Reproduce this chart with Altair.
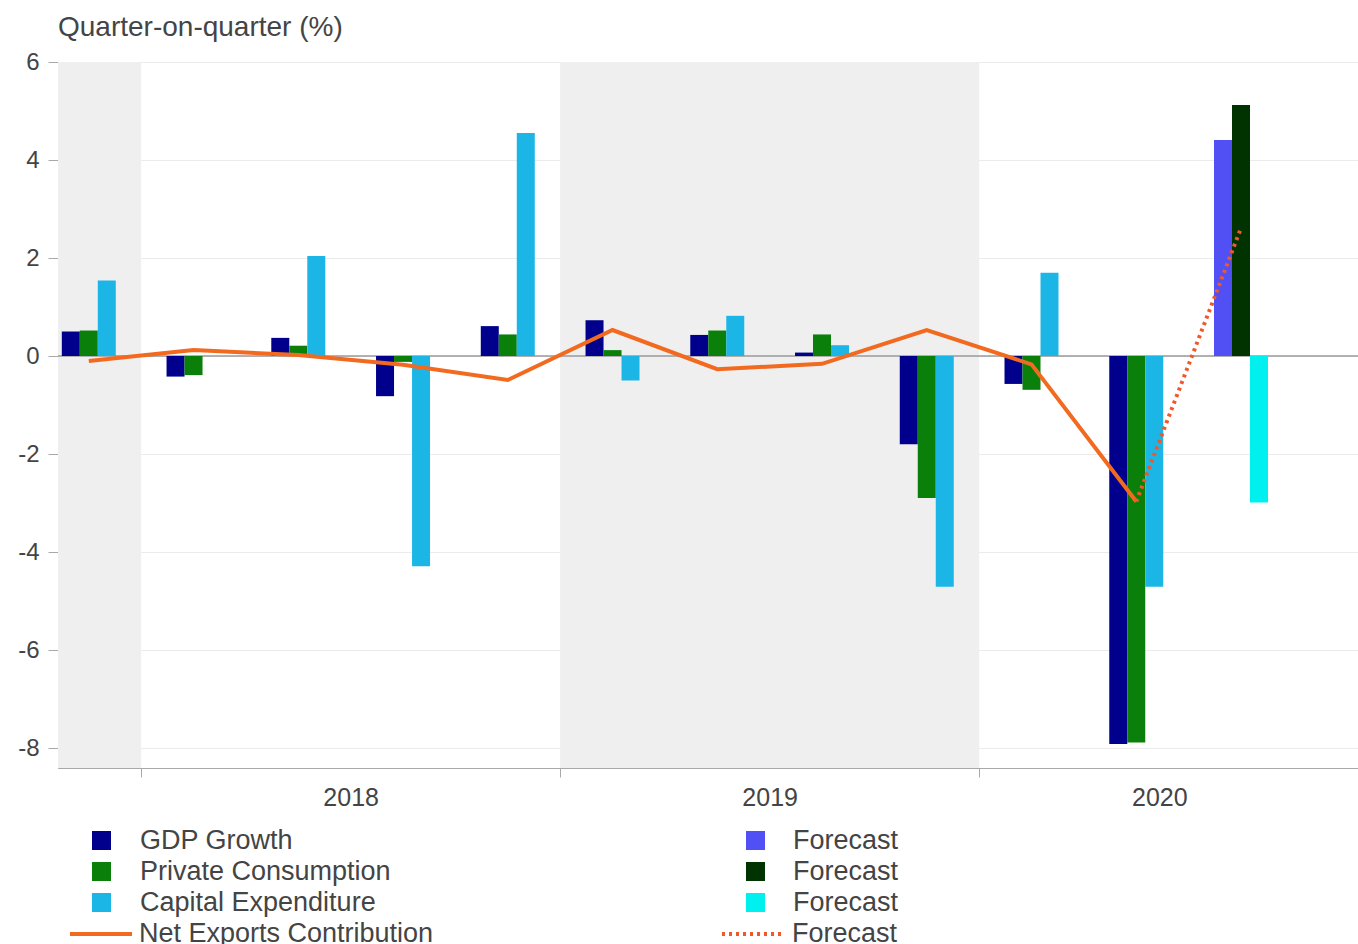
import altair as alt
import pandas as pd

# ---------------- data ----------------
quarters = ["2017 Q4", "2018 Q1", "2018 Q2", "2018 Q3", "2018 Q4", "2019 Q1",
            "2019 Q2", "2019 Q3", "2019 Q4", "2020 Q1", "2020 Q2", "2020 Q3"]

series_names = ["GDP Growth", "Private Consumption", "Capital Expenditure"]
gdp_growth = [0.50, -0.42, 0.37, -0.82, 0.61, 0.73, 0.43, 0.07, -1.80, -0.57, -7.92]
private_consumption = [0.52, -0.39, 0.21, -0.12, 0.44, 0.12, 0.52, 0.44, -2.90, -0.69, -7.89]
capital_expenditure = [1.54, 0.00, 2.04, -4.29, 4.55, -0.50, 0.82, 0.22, -4.71, 1.70, -4.71]

line_name = "Net Exports Contribution"
net_exports = [-0.10, 0.12, 0.02, -0.18, -0.49, 0.53, -0.27, -0.16, 0.53, -0.17, -2.97]

forecast_names = ["Forecast GDP", "Forecast PC", "Forecast Capex"]
forecast_quarter = "2020 Q3"
forecast_values = [4.41, 5.12, -2.99]

forecast_line_name = "Forecast"
forecast_line_quarters = ["2020 Q2", "2020 Q3"]
forecast_line = [-2.97, 2.61]

shaded_years = [2017, 2019]
year_labels = ["2018", "2019", "2020"]
year_label_pos = [2.5, 6.5, 10.22]
year_bounds = [0.5, 4.5, 8.5]

# ---------------- style ----------------
FONT = "Liberation Sans"
TXT = "#444444"
AX = "#A8A8A8"
bar_colors = ["#00008C", "#0A800A", "#1CB6E6"]
fc_colors = ["#5050F5", "#003300", "#00F0F0"]
line_color = "#F26A1F"
fc_line_color = "#F0582A"

X_MIN, X_MAX = -0.294, 12.117
Y_MIN, Y_MAX = -8.408, 6
BAR_W = 18 / 104.75


def qidx(label):
    return quarters.index(label)


rows = []
for slot, (name, vals) in enumerate(zip(series_names,
                                        [gdp_growth, private_consumption, capital_expenditure])):
    for i, v in enumerate(vals):
        rows.append({"quarter": quarters[i], "q": i, "slot": slot, "series": name, "value": v})
bars_df = pd.DataFrame(rows)

fc_df = pd.DataFrame({
    "quarter": [forecast_quarter] * 3,
    "q": [qidx(forecast_quarter)] * 3,
    "slot": [0, 1, 2],
    "series": forecast_names,
    "value": forecast_values,
})

line_df = pd.DataFrame({"q": list(range(len(net_exports))), "value": net_exports,
                        "series": [line_name] * len(net_exports)})
fc_line_df = pd.DataFrame({"q": [qidx(q) for q in forecast_line_quarters], "value": forecast_line,
                           "series": [forecast_line_name] * 2})

shade_df = pd.DataFrame({
    "start": [(y - 2017) * 4 - 3.5 for y in shaded_years],
    "end": [(y - 2017) * 4 + 0.5 for y in shaded_years],
})

x_scale = alt.Scale(domain=[X_MIN, X_MAX], nice=False, zero=False)
y_scale = alt.Scale(domain=[Y_MIN, Y_MAX], nice=False, zero=False)

label_expr = " : ".join(
    [f"datum.value == {p} ? '{t}'" for p, t in zip(year_label_pos, year_labels)]) + " : ''"
bounds_test = " || ".join([f"datum.value == {b}" for b in year_bounds])

x_axis = alt.Axis(
    values=sorted(year_bounds + year_label_pos), labelExpr=label_expr,
    tickOpacity={"condition": {"test": bounds_test, "value": 1}, "value": 0},
    grid=False, domainColor=AX, tickColor=AX, tickSize=9, labelPadding=8,
    labelFontSize=25, labelColor=TXT, labelFont=FONT, title=None,
    labelOverlap=False, labelFlush=False,
)
y_axis = alt.Axis(
    values=list(range(-8, 7, 2)), labelExpr="'' + datum.value",
    grid=True, gridColor="#EBEBEB", domainColor=AX, tickColor=AX, tickSize=10,
    labelPadding=9, labelFontSize=24, labelColor=TXT, labelFont=FONT, title=None,
)


def legend(x, y, **kw):
    base = dict(orient="none", legendX=x, legendY=y, title=None, padding=0,
                labelFontSize=27, labelFont=FONT, labelColor=TXT, rowPadding=3,
                labelLimit=500, direction="vertical")
    base.update(kw)
    return alt.Legend(**base)


shade = alt.Chart(shade_df).mark_rect(color="#EFEFEF", clip=True).encode(
    x=alt.X("start:Q", scale=x_scale, axis=x_axis),
    x2="end:Q",
    y=alt.datum(Y_MAX),
    y2=alt.datum(Y_MIN),
)

zero = alt.Chart(pd.DataFrame({"v": [0]})).mark_rule(color="#9A9A9A", strokeWidth=1.5).encode(
    y=alt.Y("v:Q", scale=y_scale, title=None)
)

calc = dict(
    x0=f"datum.q + (datum.slot - 1.5) * {BAR_W}",
    x1=f"datum.q + (datum.slot - 0.5) * {BAR_W}",
)

bars = alt.Chart(bars_df).transform_calculate(**calc).mark_rect().encode(
    x=alt.X("x0:Q", scale=x_scale, title=None),
    x2="x1:Q",
    y=alt.Y("value:Q", scale=y_scale, axis=y_axis),
    y2=alt.datum(0),
    color=alt.Color("series:N", scale=alt.Scale(domain=series_names, range=bar_colors),
                    legend=legend(30, 765, symbolType="square", symbolSize=361,
                                  symbolStrokeWidth=0, labelOffset=25)),
)

fc_bars = alt.Chart(fc_df).transform_calculate(**calc).mark_rect().encode(
    x=alt.X("x0:Q", scale=x_scale, title=None),
    x2="x1:Q",
    y=alt.Y("value:Q", scale=y_scale, title=None),
    y2=alt.datum(0),
    color=alt.Color("series:N", scale=alt.Scale(domain=forecast_names, range=fc_colors),
                    legend=legend(684, 765, symbolType="square", symbolSize=361,
                                  symbolStrokeWidth=0, labelOffset=24,
                                  labelExpr="'Forecast'")),
)

line = alt.Chart(line_df).mark_line(strokeWidth=4).encode(
    x=alt.X("q:Q", scale=x_scale, title=None),
    y=alt.Y("value:Q", scale=y_scale, title=None),
    color=alt.Color("series:N", scale=alt.Scale(domain=[line_name], range=[line_color]),
                    legend=legend(10, 839, symbolType="stroke", symbolSize=3844,
                                  symbolStrokeWidth=4, labelOffset=5)),
)

fc_line_chart = alt.Chart(fc_line_df).mark_line(strokeWidth=4, strokeDash=[3, 4]).encode(
    x=alt.X("q:Q", scale=x_scale, title=None),
    y=alt.Y("value:Q", scale=y_scale, title=None),
    color=alt.Color("series:N",
                    scale=alt.Scale(domain=[forecast_line_name], range=[fc_line_color]),
                    legend=legend(662, 839, symbolType="stroke", symbolSize=3844,
                                  symbolStrokeWidth=4, symbolDash=[3, 4], labelOffset=6)),
)

chart = alt.layer(shade, zero, bars, fc_bars, line, fc_line_chart).resolve_scale(
    color="independent"
).properties(
    width=1300,
    height=706,
    autosize="none",
    padding={"left": 58, "top": 62, "right": 0, "bottom": 176},
    title=alt.TitleParams("Quarter-on-quarter (%)", anchor="start", frame="group",
                          fontSize=28, font=FONT, color=TXT, fontWeight="normal",
                          offset=23, dy=37, baseline="alphabetic"),
).configure_view(stroke=None).configure(background="white")

chart.save("out.html", embed_options={"renderer": "svg", "actions": False})
